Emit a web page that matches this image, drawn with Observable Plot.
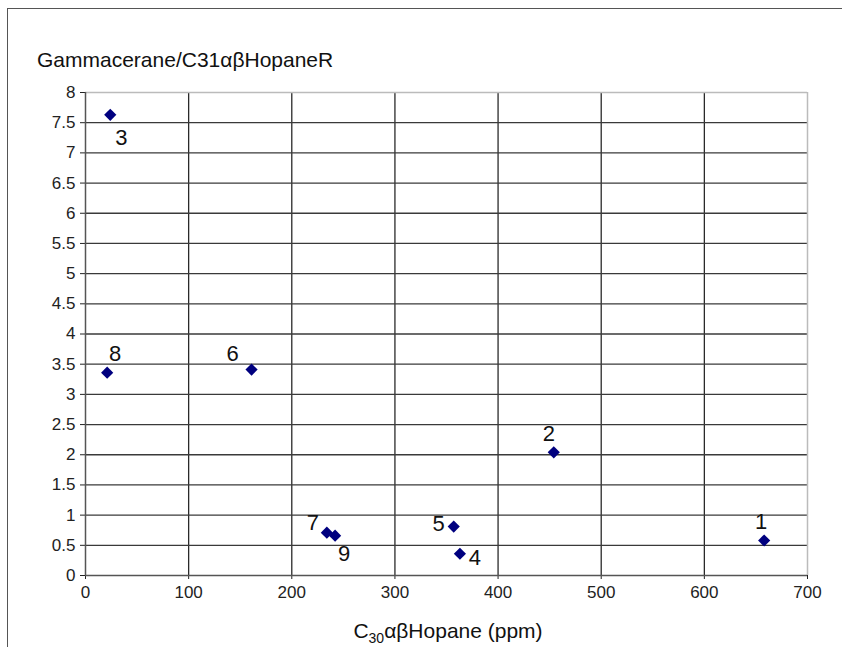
<!DOCTYPE html>
<html>
<head>
<meta charset="utf-8">
<script src="https://cdn.jsdelivr.net/npm/d3@7"></script>
<script src="https://cdn.jsdelivr.net/npm/@observablehq/plot@0.6"></script>
<style>
  html, body { margin: 0; padding: 0; background: #fff; }
  #wrap { position: relative; width: 842px; height: 647px; overflow: hidden; font-family: "Liberation Sans", Arial, sans-serif; color: #111; }
  #frame { position: absolute; left: 7px; top: 8px; width: 900px; height: 700px; border: 1.5px solid #555; box-sizing: border-box; }
  #chart { position: absolute; left: 0; top: 0; }
  #ytitle { position: absolute; left: 37px; top: 49px; font-size: 21px; line-height: 21px; white-space: nowrap; }
  #xtitle { position: absolute; left: 85px; width: 726px; top: 620px; font-size: 21px; line-height: 21px; text-align: center; white-space: nowrap; }
  #xtitle .sub { font-size: 14px; vertical-align: -5px; }
</style>
</head>
<body>
<div id="wrap">
  <div id="frame"></div>
  <div id="chart"></div>
  <div id="ytitle">Gammacerane/C31αβHopaneR</div>
  <div id="xtitle">C<span class="sub">30</span>αβHopane (ppm)</div>
</div>
<script>
// Sample numbers, C30 αβ-hopane concentration (ppm) and gammacerane ratio
const sampleIds = [1, 2, 3, 4, 5, 6, 7, 8, 9];
const hopanePpm = [658, 454, 24, 363, 357, 161, 234, 21, 242];
const gammaRatio = [0.58, 2.04, 7.63, 0.36, 0.81, 3.41, 0.71, 3.36, 0.66];

// Axis ticks
const xTicks = [0, 100, 200, 300, 400, 500, 600, 700];
const yTicks = [0, 0.5, 1, 1.5, 2, 2.5, 3, 3.5, 4, 4.5, 5, 5.5, 6, 6.5, 7, 7.5, 8];

const samples = sampleIds.map((id, i) => ({id, x: hopanePpm[i], y: gammaRatio[i]}));

// Where each sample number sits relative to its marker
const labelOffset = {
  1: [-3, -19], 2: [-5, -18], 3: [11, 23], 4: [15, 4], 5: [-15, -3],
  6: [-19, -16], 7: [-14, -10], 8: [8, -19], 9: [9, 18]
};

const labelMarks = samples.map(d => Plot.text([d], {
  x: "x", y: "y", text: d => String(d.id),
  dx: labelOffset[d.id][0], dy: labelOffset[d.id][1],
  fontSize: 22, fill: "#111", textAnchor: "middle", lineAnchor: "middle"
}));

const chart = Plot.plot({
  width: 842,
  height: 647,
  marginLeft: 85,
  marginRight: 35,
  marginTop: 92,
  marginBottom: 72,
  style: {fontFamily: "'Liberation Sans', Arial, sans-serif", fontSize: "17px", color: "#222", background: "transparent", overflow: "visible"},
  x: {domain: [0, 700], ticks: xTicks, tickSize: 4, tickPadding: 6, label: null, tickFormat: d => String(d)},
  y: {domain: [0, 8], ticks: yTicks, tickSize: 5, tickPadding: 5, label: null, tickFormat: d => String(d)},
  marks: [
    Plot.gridX(xTicks.filter(v => v > 0 && v < 700), {stroke: "#2a2a2a", strokeOpacity: 1, strokeWidth: 1.3}),
    Plot.gridY(yTicks.filter(v => v > 0 && v < 8), {stroke: "#3a3a3a", strokeOpacity: 1, strokeWidth: 1.3}),
    Plot.ruleX([700], {stroke: "#bbb", strokeWidth: 1.5}),
    Plot.ruleY([8], {stroke: "#bbb", strokeWidth: 1.5}),
    Plot.ruleX([0], {stroke: "#555", strokeWidth: 1.5}),
    Plot.ruleY([0], {stroke: "#555", strokeWidth: 1.5}),
    Plot.dot(samples, {x: "x", y: "y", symbol: "diamond2", r: 5.5, fill: "#00007f", stroke: "none"}),
    ...labelMarks
  ]
});

document.getElementById("chart").appendChild(chart);
</script>
</body>
</html>
